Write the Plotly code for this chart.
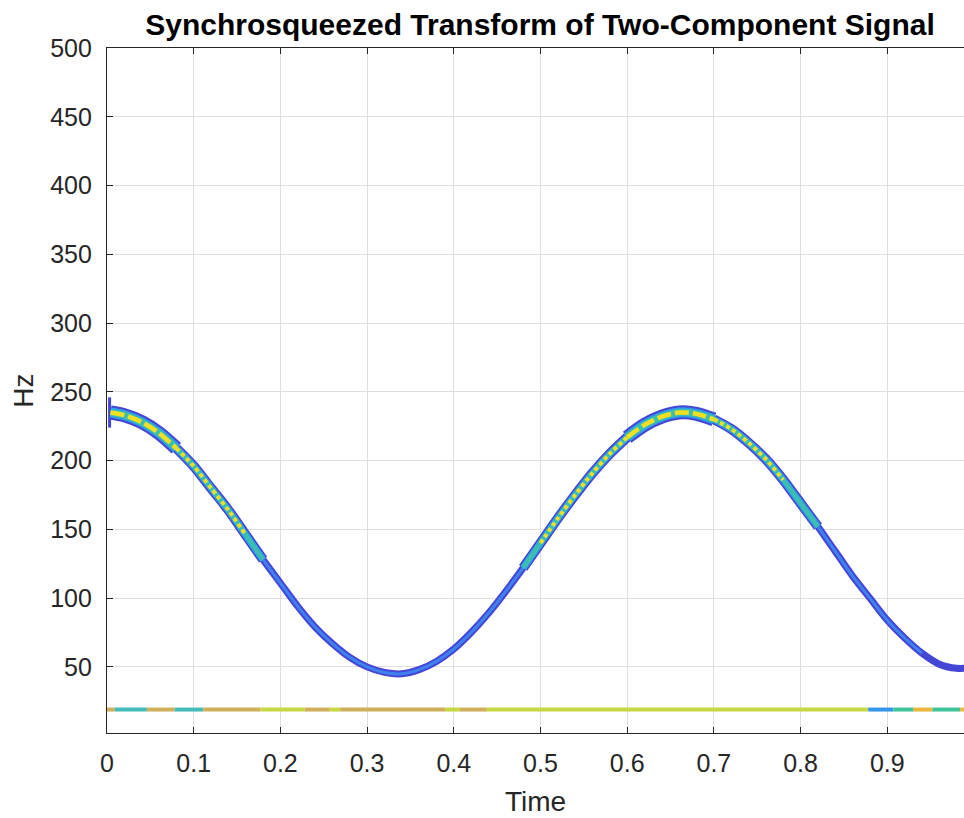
import plotly.graph_objects as go

# ---------------- data ----------------
# upper (frequency-modulated) component: ridge centre frequency
ridge_t = [0.004, 0.02, 0.04, 0.06, 0.08, 0.10, 0.12, 0.14, 0.16, 0.18,
           0.20, 0.22, 0.24, 0.26, 0.28, 0.30, 0.32, 0.34, 0.36, 0.38,
           0.40, 0.42, 0.44, 0.46, 0.48, 0.50, 0.52, 0.54, 0.56, 0.58,
           0.60, 0.62, 0.64, 0.66, 0.68, 0.70, 0.72, 0.74, 0.76, 0.78,
           0.80, 0.82, 0.84, 0.86, 0.88, 0.90, 0.92, 0.94, 0.96, 0.98, 0.99]
ridge_hz = [235, 233, 228, 220, 209, 196, 180, 164, 146, 128,
            111, 94, 79, 67, 57, 50, 46, 45, 48, 54,
            63, 75, 89, 105, 122, 140, 158, 175, 191, 205,
            217, 226, 232, 235, 234, 230, 223, 213, 201, 186,
            169, 152, 134, 116, 100, 84, 71, 60, 52, 49, 49]
# highest contour level reached along the ridge (0 = outline only ... 4 = broad yellow)
ridge_level = [4, 4, 4, 4, 4, 3, 3, 3, 3, 2,
               1, 1, 1, 1, 1, 1, 1, 1, 1, 1,
               1, 1, 1, 1, 2, 3, 3, 3, 3, 3,
               4, 4, 4, 4, 4, 4, 3, 3, 3, 3,
               2, 2, 1, 1, 1, 1, 1, 1, 0, 0, 0]

# edge artefact at the start of the ridge
edge_t = [0.003, 0.003]
edge_hz = [224, 246]

# lower (constant) component: colour changes along time
low_t = [0.0, 0.009, 0.046, 0.078, 0.111, 0.177, 0.228, 0.257, 0.269,
         0.390, 0.407, 0.438, 0.878, 0.907, 0.930, 0.952, 0.984, 0.9885]
low_hz = [19, 19, 19, 19, 19, 19, 19, 19, 19,
          19, 19, 19, 19, 19, 19, 19, 19, 19]
low_kind = ['tan', 'teal', 'tan', 'teal', 'tan', 'ygreen', 'tan', 'ygreen', 'tan',
            'ygreen', 'tan', 'ygreen', 'blue', 'green', 'orange', 'green', 'orange']

x_ticks = [0, 0.1, 0.2, 0.3, 0.4, 0.5, 0.6, 0.7, 0.8, 0.9]
x_labels = ['0', '0.1', '0.2', '0.3', '0.4', '0.5', '0.6', '0.7', '0.8', '0.9']
y_ticks = [50, 100, 150, 200, 250, 300, 350, 400, 450, 500]
y_labels = [str(v) for v in y_ticks]

# ---------------- styling ----------------
LOW_COLORS = {'tan': '#cfae5c', 'teal': '#45bcb8', 'ygreen': '#c6d743',
              'blue': '#3597e8', 'green': '#3fc39a', 'orange': '#eab63d'}
OUTLINE = '#4545d6'
LIGHTBLUE = '#2f9be8'
INNER = '#3d82ee'
TEAL = '#3bbfae'
YELLOW = '#f2df22'

# (condition on segment level, width, colour, dash)
LAYERS = [
    (lambda lv: lv >= 4, 14, OUTLINE, 'solid'),
    (lambda lv: 2 <= lv < 4, 10, OUTLINE, 'solid'),
    (lambda lv: lv >= 0, 7, OUTLINE, 'solid'),
    (lambda lv: lv >= 4, 10, LIGHTBLUE, 'solid'),
    (lambda lv: 2 <= lv < 4, 7, LIGHTBLUE, 'solid'),
    (lambda lv: lv >= 1, 3, INNER, 'solid'),
    (lambda lv: lv >= 4, 7, TEAL, 'solid'),
    (lambda lv: 2 <= lv < 4, 4.5, TEAL, 'solid'),
    (lambda lv: lv == 3, 4, YELLOW, '4px,3px'),
    (lambda lv: lv >= 4, 4.5, YELLOW, '14px,4px'),
]


def runs(cond):
    xs, ys = [], []
    cur = False
    for i in range(len(ridge_t) - 1):
        lv = min(ridge_level[i], ridge_level[i + 1])
        if cond(lv):
            if not cur:
                if xs:
                    xs.append(None)
                    ys.append(None)
                xs.append(ridge_t[i])
                ys.append(ridge_hz[i])
                cur = True
            xs.append(ridge_t[i + 1])
            ys.append(ridge_hz[i + 1])
        else:
            cur = False
    return xs, ys


fig = go.Figure()

# lower component
for i, kind in enumerate(low_kind):
    fig.add_trace(go.Scatter(
        x=[low_t[i], low_t[i + 1]], y=[low_hz[i], low_hz[i + 1]],
        mode='lines', line=dict(color=LOW_COLORS[kind], width=4),
        hoverinfo='skip', showlegend=False))

# edge artefact
fig.add_trace(go.Scatter(x=edge_t, y=edge_hz, mode='lines',
                         line=dict(color=OUTLINE, width=3),
                         hoverinfo='skip', showlegend=False))

# upper ridge, built up from contour-like layers
for cond, w, col, dash in LAYERS:
    xs, ys = runs(cond)
    if not xs:
        continue
    fig.add_trace(go.Scatter(
        x=xs, y=ys, mode='lines',
        line=dict(color=col, width=w, dash=dash, shape='spline', smoothing=0.8),
        connectgaps=False, hoverinfo='skip', showlegend=False))

FONT = 'Liberation Sans, Arial, Helvetica, sans-serif'
AXC = '#262626'

fig.update_layout(
    width=964, height=818,
    margin=dict(l=107, r=0, t=48, b=85, autoexpand=False),
    paper_bgcolor='white', plot_bgcolor='white',
    font=dict(family=FONT, color=AXC, size=25),
    title=dict(text='Synchrosqueezed Transform of Two-Component Signal',
               font=dict(family=FONT, size=30, color='black', weight='bold'),
               x=540 / 964, xanchor='center', xref='container',
               y=1 - 24 / 818, yanchor='middle', yref='container',
               automargin=False),
    xaxis=dict(range=[0, 0.9885], tickvals=x_ticks, ticktext=x_labels,
               showgrid=True, gridcolor='#dedede', gridwidth=1,
               zeroline=False, showline=True, linecolor=AXC, linewidth=1.3,
               mirror='ticks', ticks='inside', ticklen=6, tickcolor=AXC,
               tickfont=dict(size=25, color=AXC), ticklabelstandoff=8,
               automargin=False,
               title=dict(text='Time', font=dict(size=28, color=AXC), standoff=15)),
    yaxis=dict(range=[1.95, 500], tickvals=y_ticks, ticktext=y_labels,
               showgrid=True, gridcolor='#dedede', gridwidth=1,
               zeroline=False, showline=True, linecolor=AXC, linewidth=1.3,
               mirror=False, ticks='inside', ticklen=6, tickcolor=AXC,
               tickfont=dict(size=25, color=AXC), ticklabelstandoff=9,
               automargin=False,
               title=dict(text='Hz', font=dict(size=28, color=AXC), standoff=8)),
)

fig.write_html('out.html', config={'displayModeBar': False},
               post_script="document.body.style.margin='0px';")
